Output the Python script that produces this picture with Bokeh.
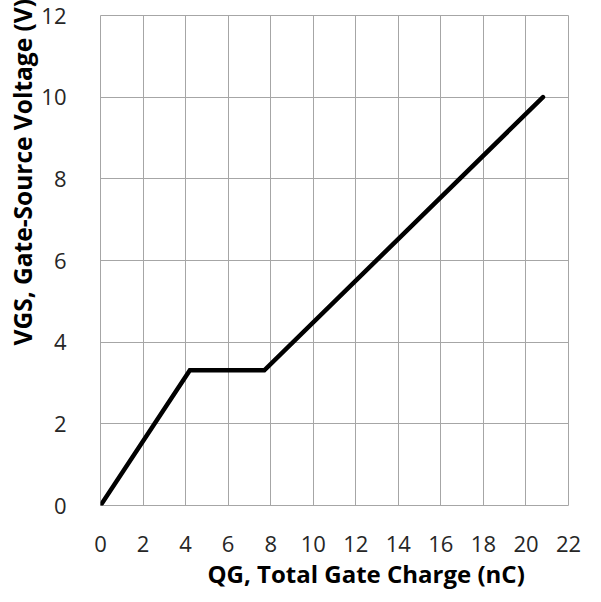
from bokeh.plotting import figure
from bokeh.models import Range1d, FixedTicker, Title
from bokeh.embed import file_html
from bokeh.resources import INLINE

# Data
qg_nc = [0.0, 4.2, 7.7, 20.8]
vgs_v = [0.0, 3.31, 3.31, 10.0]
x_ticks = [0, 2, 4, 6, 8, 10, 12, 14, 16, 18, 20, 22]
y_ticks = [0, 2, 4, 6, 8, 10, 12]
x_title = "QG, Total Gate Charge (nC)"
y_title = "VGS, Gate-Source Voltage (V)"

FONT = "Open Sans"
GRID = "#a6a6a6"

p = figure(width=590, height=592, output_backend="svg", toolbar_location=None,
           x_range=Range1d(0, 22), y_range=Range1d(0, 12),
           min_border_left=100, min_border_right=22, min_border_top=15,
           min_border_bottom=87)
p.background_fill_color = "white"
p.border_fill_color = "white"
p.outline_line_color = GRID
p.outline_line_width = 1

p.line(qg_nc, vgs_v, line_color="black", line_width=4.5, line_cap="round", line_join="miter")

for ax, ticks in ((p.xaxis[0], x_ticks), (p.yaxis[0], y_ticks)):
    ax.ticker = FixedTicker(ticks=ticks)
    ax.axis_line_color = None
    ax.major_tick_line_color = None
    ax.minor_tick_line_color = None
    ax.major_label_text_font = FONT
    ax.major_label_text_font_size = "22px"
    ax.major_label_text_color = "#262626"

p.xaxis[0].major_label_standoff = 24
p.yaxis[0].major_label_standoff = 28

p.xgrid.ticker = FixedTicker(ticks=x_ticks)
p.ygrid.ticker = FixedTicker(ticks=y_ticks)
p.xgrid.grid_line_color = GRID
p.ygrid.grid_line_color = GRID

p.add_layout(Title(text=x_title, align="left", offset=107, text_font=FONT,
                   text_font_size="24px", text_font_style="bold",
                   text_color="black", standoff=0), "below")
p.add_layout(Title(text=y_title, align="left", offset=160, text_font=FONT,
                   text_font_size="24.5px", text_font_style="bold",
                   text_color="black", standoff=0), "left")

open("out.html", "w").write(file_html(p, INLINE))
